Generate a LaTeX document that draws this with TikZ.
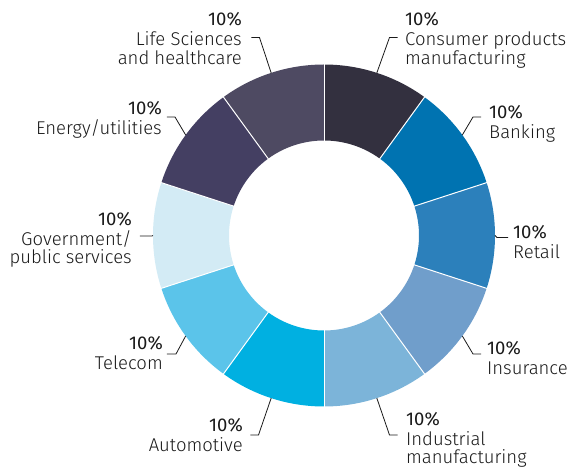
\documentclass[tikz,border=0pt]{standalone}
\usepackage{fontspec}
\setmainfont{Fira Sans}[UprightFont=* Light]
\newfontfamily\pctfont{Fira Sans}
\usetikzlibrary{positioning}

\definecolor{consumer}{HTML}{33303F}
\definecolor{banking}{HTML}{0073B1}
\definecolor{retail}{HTML}{2C80BB}
\definecolor{insurance}{HTML}{709ECB}
\definecolor{industrial}{HTML}{7CB4D9}
\definecolor{automotive}{HTML}{00B0E1}
\definecolor{telecom}{HTML}{5BC4EA}
\definecolor{government}{HTML}{D3EBF5}
\definecolor{energy}{HTML}{443F62}
\definecolor{lifesci}{HTML}{4E4A62}
\definecolor{ink}{HTML}{1A1A1A}

\begin{document}
\begin{tikzpicture}[x=1pt,y=1pt,
  leader/.style={draw=ink,line width=0.8pt},
  lbl/.style={inner sep=0pt,text=ink,font=\fontsize{18.5}{18.5}\selectfont},
  lblr/.style={lbl,align=left,anchor=north west},
  lbll/.style={lbl,align=right,anchor=north east}]

\useasboundingbox (-324,-232.5) rectangle (249,235.5);

% ring segments, clockwise from the top
\foreach \i/\col in {0/consumer,1/banking,2/retail,3/insurance,4/industrial,
                     5/automotive,6/telecom,7/government,8/energy,9/lifesci}
  \fill[\col] ({90-36*\i}:171) arc[start angle={90-36*\i},end angle={54-36*\i},radius=171]
     -- ({54-36*\i}:95) arc[start angle={54-36*\i},end angle={90-36*\i},radius=95] -- cycle;
\foreach \i in {0,...,9}
  \draw[white,line width=1pt] ({90-36*\i}:94) -- ({90-36*\i}:172);

% labels
\node[lblr] (consumer)   at (81,223)     {{\pctfont 10\%}\\[1.5pt]Consumer products\\manufacturing};
\node[lblr] (banking)    at (165,130)    {{\pctfont 10\%}\\[1.5pt]Banking};
\node[lblr] (retail)     at (189,10)     {{\pctfont 10\%}\\[1.5pt]Retail};
\node[lblr] (insurance)  at (163,-106)   {{\pctfont 10\%}\\[1.5pt]Insurance};
\node[lblr] (industrial) at (82,-176.5)  {{\pctfont 10\%}\\[1.5pt]Industrial\\manufacturing};
\node[lbll] (automotive) at (-81,-182.5) {{\pctfont 10\%}\\[1.5pt]Automotive};
\node[lbll] (telecom)    at (-161,-101)  {{\pctfont 10\%}\\[1.5pt]Telecom};
\node[lbll] (government) at (-192,23.5)  {{\pctfont 10\%}\\[1.5pt]Government/\\public services};
\node[lbll] (energy)     at (-162,134.5) {{\pctfont 10\%}\\[1.5pt]Energy/utilities};
\node[lbll] (lifesci)    at (-82,223)    {{\pctfont 10\%}\\[1.5pt]Life Sciences\\and healthcare};

% leader lines
\foreach \name/\ang/\bx/\by/\tail in {consumer/72/65.5/198/8, banking/36/149/118.5/8,
    retail/0/173/-2/11, insurance/-36/149/-118.5/8, industrial/-72/65.5/-199.5/8,
    automotive/-108/-65.5/-199.5/-8, telecom/-144/-148/-118.5/-9,
    government/180/-172/-0.5/-12, energy/144/-149/118.5/-8, lifesci/108/-64.5/198/-8}
{
  \coordinate (\name-in) at (\ang:171);
  \coordinate (\name-bend) at (\bx,\by);
  \coordinate (\name-end) at (\bx+\tail,\by);
  \draw[leader] (\name-in) -- (\name-bend) -- (\name-end);
}
\end{tikzpicture}
\end{document}
